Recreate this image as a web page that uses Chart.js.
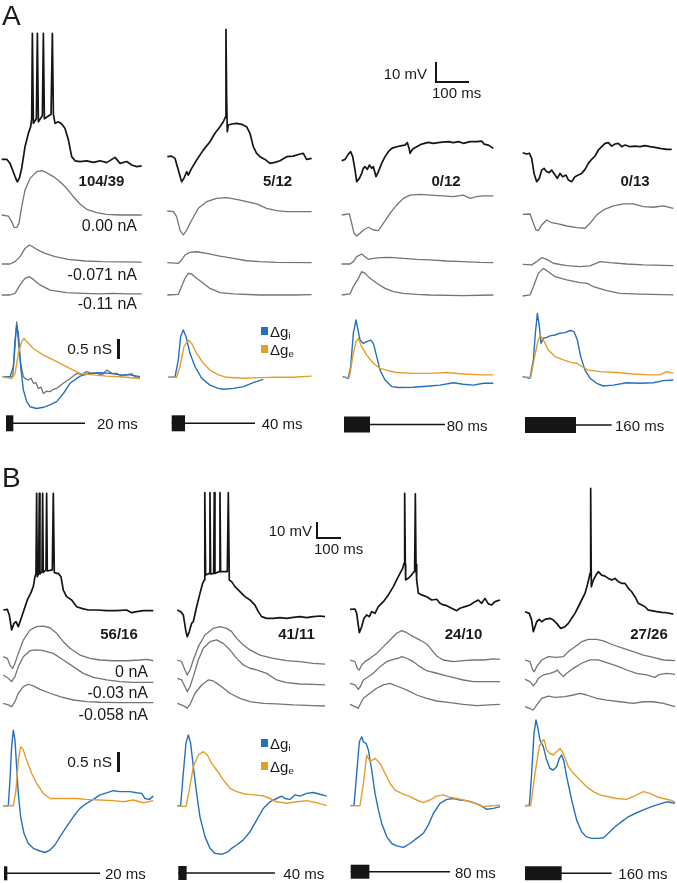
<!DOCTYPE html>
<html>
<head>
<meta charset="utf-8">
<script src="https://cdn.jsdelivr.net/npm/chart.js@4.4.1/dist/chart.umd.min.js"></script>
<style>
  body { margin: 0; width: 677px; height: 883px; position: relative; overflow: hidden; background: #fff;
         font-family: "Liberation Sans", Arial, sans-serif; color: #1a1a1a; }
  canvas { position: absolute; }
  .lbl { position: absolute; white-space: nowrap; line-height: 1; z-index: 2; }
  .lbl sub { font-size: 0.65em; vertical-align: -0.25em; line-height: 0; }
  .box { position: absolute; z-index: 2; }
</style>
</head>
<body>
<script>
// traces as [time ms, value] pairs, values relative to each trace's own start level
// panel A, column 1 (20 ms)
const A1_v = [[0,0],[15,0],[25,-2.7],[40,-11.5],[47,-15],[53,-12.6],[60,-6],[70,8.4],[80,17.3],[87,21.8],[90,27],[92,84],[95,24],[104,27],[107,84],[110,25],[122,29],[125,84],[128,27],[148,30],[152,84],[155,30],[160,24],[170,25],[180,23.5],[190,20.5],[200,13],[210,1.8],[220,-1],[235,-1.5],[255,-1.1],[275,-2],[295,-1],[315,-2.2],[340,1.3],[355,-2.7],[375,-1.5],[390,-3.8],[405,-4.9],[420,-4.4]];
const A1_g1 = [[0,0],[20,-0.7],[30,-4.4],[37,-8.2],[45,-8.4],[52,-5.6],[60,5.6],[70,16.7],[85,24.4],[105,28.9],[120,29.6],[135,28.2],[155,25.6],[175,22.2],[195,17.8],[215,12.2],[235,7.3],[255,3.8],[285,1.6],[315,0.4],[355,0],[420,0]];
const A1_g2 = [[0,0],[25,0],[40,1.6],[55,4.9],[70,10.4],[83,12.7],[90,11.8],[105,9.8],[130,7.1],[160,4.9],[200,3.1],[250,2],[300,1.6],[420,1.3]];
const A1_g3 = [[0,0],[25,0],[40,1.1],[55,6.7],[70,11.1],[83,12.2],[95,10.4],[115,6.7],[145,3.3],[195,1.6],[245,1.1],[295,0.7],[335,1.1],[375,0.7],[420,0.7]];
const A1_gi = [[0,0],[22,0],[32,0.33],[37,1.22],[42,1.72],[47,1.44],[54,0.33],[62,-0.44],[72,-0.83],[82,-1],[102,-1.06],[122,-1.02],[142,-0.94],[162,-0.83],[182,-0.56],[202,-0.22],[232,0.02],[262,0.11],[292,0.13],[322,0.11],[352,0.06],[382,0.06],[412,0]];
const A1_ge = [[0,0],[27,-0.06],[37,0.11],[47,0.78],[57,1.17],[64,1.28],[72,1.17],[92,0.94],[122,0.72],[152,0.56],[192,0.33],[232,0.11],[272,0.06],[312,0.02],[352,0],[412,-0.06]];
const A1_gt = [[0,0],[30,0],[37,1.0],[42,1.83],[52,0.56],[62,0],[70,-0.08],[77,-0.11],[85,-0.05],[92,-0.22],[100,-0.2],[107,-0.39],[115,-0.35],[122,-0.56],[132,-0.48],[142,-0.5],[152,-0.42],[162,-0.39],[172,-0.3],[182,-0.22],[202,-0.06],[222,0.11],[237,0.08],[252,0.17],[267,0.1],[282,0.13],[297,0.05],[312,0.22],[327,0.12],[342,0.11],[357,0.02],[372,0.06],[387,0.1],[402,-0.06],[412,0]];
// panel A, column 2 (40 ms)
const A2_v = [[0,0],[13,0.4],[23,-1.1],[33,-8.9],[43,-16.7],[50,-14.4],[58,-10],[63,-12.2],[73,-7.8],[88,-2.2],[108,4.4],[128,10],[143,15.6],[158,20],[168,23.3],[175,26.7],[176,84.9],[178,40],[180,16.7],[183,21.1],[193,21.8],[208,22.2],[223,21.6],[238,20],[248,15.6],[258,6.7],[268,2.2],[278,0],[293,-1.8],[308,-4.4],[323,-3.8],[338,-2.7],[358,0],[378,0.4],[398,1.8],[408,2.2],[418,-1.8],[433,-1.1]];
const A2_g1 = [[0,0],[18,-0.4],[28,-3.8],[38,-12.7],[48,-16],[58,-12.7],[73,-6.2],[93,1.8],[118,6.2],[148,8.4],[178,8.9],[208,7.8],[238,6.2],[268,4.7],[298,1.8],[328,0.2],[358,-0.4],[433,-0.4]];
const A2_g2 = [[0,0],[33,-0.4],[43,1.8],[53,5.1],[68,6.9],[88,7.3],[118,6.2],[158,4.4],[198,2.9],[238,1.3],[278,0.7],[328,0.2],[433,0]];
const A2_g3 = [[0,0],[33,0.4],[43,5.6],[53,11.1],[63,14.4],[73,14],[88,11.1],[108,7.8],[128,4.4],[158,1.6],[198,0.7],[278,0],[378,0],[433,0.2]];
const A2_gi = [[0,0],[20,0],[30,0.58],[37,1.36],[45,1.58],[53,1.36],[65,0.8],[80,0.36],[100,-0.03],[125,-0.26],[150,-0.37],[165,-0.4],[195,-0.37],[225,-0.31],[255,-0.18],[285,-0.07]];
const A2_ge = [[0,0],[25,0],[35,0.36],[47,1.02],[60,1.24],[70,1.13],[85,0.8],[105,0.47],[125,0.24],[150,0.08],[175,0],[225,-0.03],[275,-0.01],[325,0],[375,0],[430,0.04]];
// panel A, column 3 (80 ms)
const A3_v = [[0,0],[10,0.9],[20,4.4],[27,6],[33,2.7],[40,-6.2],[45,-14],[53,-11.8],[60,-8.4],[65,-5.1],[70,-4],[77,-5.8],[83,-2.9],[90,-5.1],[95,-4],[103,-10.7],[110,-7.3],[120,-1.8],[130,2.7],[140,6],[150,8.2],[165,9.3],[180,10],[190,10.4],[197,12],[203,7.6],[205,4.9],[213,7.8],[225,9.3],[240,11.1],[260,12.2],[275,11.6],[295,12.2],[320,12.7],[335,12],[350,12.7],[365,11.6],[385,12.7],[405,12.7],[420,13.1],[427,11.1],[440,10.4],[455,8.2]];
const A3_g1 = [[0,0],[23,0.7],[30,-5.6],[37,-12.2],[45,-14],[55,-12.2],[65,-10],[80,-8.2],[95,-10],[110,-10.4],[125,-5.6],[145,1.1],[165,6.7],[185,11.1],[205,13.3],[235,13.8],[265,13.3],[305,12.7],[335,12.2],[365,13.3],[385,11.1],[405,12.2],[425,12.7],[455,12.7]];
const A3_g2 = [[0,0],[25,0],[35,1.6],[45,4.9],[60,6.7],[70,4.9],[80,3.1],[95,3.8],[115,4.2],[145,4.4],[185,3.8],[225,3.1],[265,2.7],[315,2],[365,1.6],[415,1.1],[455,0.9]];
const A3_g3 = [[0,0],[25,0.7],[35,5.6],[50,11.1],[60,15.6],[70,14.4],[85,11.1],[105,7.8],[130,4.4],[155,2.2],[185,1.1],[225,0.4],[265,0],[365,-0.4],[455,0]];
const A3_gi = [[0,0.02],[17,-0.03],[24,0.36],[32,1.47],[40,1.91],[45,1.63],[52,1.24],[62,1.13],[72,1.19],[84,1.24],[92,1.13],[102,0.69],[112,0.24],[127,-0.09],[147,-0.31],[167,-0.34],[212,-0.33],[262,-0.29],[292,-0.26],[332,-0.18],[362,-0.23],[392,-0.26],[422,-0.2],[452,-0.2]];
const A3_ge = [[0,0],[20,0],[30,0.69],[40,1.19],[47,1.3],[57,1.02],[72,0.74],[92,0.47],[112,0.3],[137,0.22],[162,0.16],[212,0.13],[262,0.13],[312,0.16],[362,0.11],[412,0.08],[452,0.08]];
// panel A, column 4 (160 ms)
const A4_v = [[0,0],[12,-0.9],[20,-0.4],[27,-3.8],[34,-13.8],[42,-19.3],[50,-17.1],[57,-11.6],[64,-10.4],[72,-12.7],[80,-13.3],[87,-11.6],[97,-14.9],[104,-17.1],[112,-13.8],[120,-16],[130,-14.9],[137,-18.2],[147,-19.3],[157,-16],[167,-14.9],[177,-13.8],[187,-11.1],[197,-7.1],[207,-4.4],[217,-2.2],[227,1.8],[237,4],[247,6.2],[257,6.7],[267,4.4],[277,5.8],[287,6.2],[297,4],[307,5.1],[322,4],[337,4.4],[352,4],[367,4.7],[382,4],[397,3.6],[412,2.9],[432,2.2],[447,2.2]];
const A4_g1 = [[0,0],[22,0.2],[32,-6],[40,-10.4],[47,-10.9],[57,-7.1],[72,-3.8],[87,-5.6],[107,-6.4],[132,-7.8],[162,-8.9],[187,-9.3],[202,-6],[222,-0.4],[242,2.9],[272,5.6],[302,6.9],[332,6.9],[362,5.1],[392,4.7],[422,5.6],[452,4]];
const A4_g2 = [[0,0],[27,-0.4],[42,1.8],[57,4.4],[72,3.3],[92,0.7],[132,-0.9],[172,-1.6],[202,-1.1],[232,1.8],[262,1.1],[312,0.2],[362,-0.4],[452,-0.9]];
const A4_g3 = [[0,0],[22,0.7],[32,6.2],[47,15.1],[62,18.4],[77,16.2],[97,12.9],[132,10.7],[172,8.9],[194,8.4],[212,6.2],[252,3.6],[292,1.8],[352,1.3],[452,0.7]];
const A4_gi = [[0,0.02],[22,-0.03],[32,0.58],[38,1.47],[44,2.13],[50,1.69],[55,1.13],[62,1.3],[72,1.33],[82,1.38],[97,1.41],[112,1.47],[127,1.49],[142,1.56],[154,1.52],[164,1.24],[174,0.69],[187,0.24],[202,-0.03],[222,-0.2],[242,-0.29],[272,-0.26],[312,-0.18],[352,-0.2],[392,-0.18],[422,-0.11],[452,-0.09]];
const A4_ge = [[0,0],[24,0],[34,0.58],[44,1.13],[52,1.41],[62,1.24],[77,0.91],[97,0.69],[122,0.58],[147,0.49],[164,0.47],[177,0.36],[197,0.24],[232,0.19],[282,0.16],[332,0.11],[382,0.08],[412,0.08],[432,0.19],[452,0.13]];
// panel B, column 1 (20 ms)
const B1_v = [[0,0],[12,0.4],[18,-3.3],[25,-13.3],[32,-8.9],[38,-7.8],[45,-11.1],[52,-6.7],[62,0],[72,6.7],[82,11.1],[90,15.6],[95,22.2],[98,24.4],[100,77.8],[102,22.2],[106,24.4],[108,77.8],[110,24],[116,25.6],[118,77.8],[120,25],[128,26.7],[130,77.8],[132,26],[147,26.7],[150,77.8],[153,25],[160,24.4],[165,24.4],[173,22.2],[180,13.3],[190,8.9],[205,6.7],[220,2.2],[235,1.1],[255,0],[280,0],[310,-0.4],[340,-0.4],[370,0],[385,-1.8],[400,-1.1],[420,-0.4],[450,-0.4]];
const B1_g1 = [[0,0],[12,-1.1],[20,-5.6],[28,-7.8],[35,-4.4],[45,2.2],[60,11.1],[80,17.8],[100,20],[120,20.4],[140,19.3],[160,15.6],[180,10],[200,5.6],[230,1.1],[260,-1.1],[290,-2.2],[330,-2.7],[370,-2.7],[410,-2.2],[430,-1.8],[450,-2.7]];
const B1_g2 = [[0,0],[15,-2.2],[25,-4.4],[35,-1.1],[45,5.6],[60,12.2],[80,16.2],[100,16.7],[120,16.2],[150,14.4],[180,10],[210,5.6],[240,1.1],[270,-1.6],[310,-3.3],[350,-4.4],[390,-4.9],[450,-4.9]];
const B1_g3 = [[0,0],[15,-1.1],[25,-2.2],[35,1.1],[45,6.7],[60,11.1],[75,12.7],[90,11.6],[110,9.3],[140,6.7],[170,4.4],[210,2.2],[250,1.1],[290,0.7],[350,0.4],[450,0.4]];
const B1_gi = [[0,0],[15,0],[20,0.86],[25,1.97],[30,2.52],[35,2.19],[40,1.3],[45,0.41],[52,-0.37],[62,-0.92],[75,-1.26],[90,-1.42],[110,-1.51],[125,-1.56],[140,-1.48],[155,-1.31],[170,-1.03],[190,-0.7],[210,-0.37],[230,-0.09],[250,0.08],[270,0.21],[290,0.36],[310,0.43],[330,0.5],[350,0.47],[380,0.47],[400,0.43],[415,0.41],[425,0.24],[438,0.21],[450,0.32]];
const B1_ge = [[0,0],[30,0],[38,0.52],[45,1.52],[52,1.97],[60,1.86],[70,1.52],[85,1.08],[100,0.74],[120,0.41],[140,0.24],[160,0.24],[190,0.24],[220,0.24],[250,0.21],[290,0.19],[330,0.17],[360,0.13],[390,0.19],[420,0.1],[450,0.17]];
// panel B, column 2 (40 ms)
const B2_v = [[0,0],[10,-1.1],[18,-3.3],[26,-14.4],[30,-17.8],[36,-14.4],[43,-8.9],[48,-7.8],[58,2.2],[68,11.1],[76,17.8],[81,20],[82,22.2],[83,78.2],[85,23.3],[96,24.4],[98,78.2],[100,24],[109,24.4],[111,78.2],[113,24.4],[126,25.6],[128,78.2],[130,25.6],[150,25.6],[153,78.2],[156,20],[163,18.9],[173,15.6],[188,12.2],[203,8.9],[218,6.7],[233,3.3],[243,-1.1],[253,-4.4],[268,-5.6],[288,-5.6],[308,-5.1],[328,-5.6],[348,-4.9],[368,-4.4],[388,-5.1],[408,-4.4],[428,-4],[443,-4.4]];
const B2_g1 = [[0,0],[13,-1.1],[23,-6.7],[30,-10],[38,-6.7],[48,0],[63,8.9],[83,16.7],[108,21.1],[128,22.2],[148,21.1],[163,18.9],[178,14.4],[198,10],[218,6.7],[248,3.3],[288,1.1],[328,-0.4],[368,-1.1],[408,-2.2],[443,-2.7]];
const B2_g2 = [[0,0],[13,-1.1],[23,-5.6],[30,-8.9],[38,-5.6],[48,1.1],[63,12.2],[78,20],[98,24.4],[118,25.6],[138,23.3],[158,18.9],[178,13.3],[198,8.9],[218,6.7],[238,5.6],[268,3.3],[298,-1.1],[328,-2.9],[368,-3.8],[408,-4],[443,-4.4]];
const B2_g3 = [[0,0],[13,-1.1],[23,-2.2],[30,-3.3],[40,0],[53,6.7],[73,12.2],[93,15.6],[108,14.9],[133,11.1],[158,6.7],[188,3.3],[218,1.1],[258,0],[298,-0.4],[348,-1.1],[408,-1.6],[443,-1.8]];
const B2_gi = [[0,0],[10,0],[18,1.08],[26,2.08],[33,2.36],[40,2.08],[48,1.3],[58,0.41],[68,-0.37],[83,-1.03],[98,-1.42],[113,-1.59],[133,-1.62],[153,-1.53],[163,-1.42],[178,-1.31],[198,-1.14],[218,-0.87],[238,-0.48],[258,-0.09],[278,0.13],[298,0.24],[313,0.32],[323,0.24],[338,0.21],[353,0.36],[368,0.32],[388,0.41],[408,0.44],[428,0.38],[448,0.32]];
const B2_ge = [[0,0],[26,-0.03],[36,0.52],[48,1.3],[63,1.69],[78,1.8],[90,1.69],[103,1.41],[118,1.19],[138,0.86],[158,0.58],[178,0.47],[203,0.39],[228,0.36],[258,0.33],[278,0.24],[298,0.13],[328,0.08],[358,0.13],[388,0.17],[418,0.1],[448,0]];
// panel B, column 3 (80 ms)
const B3_v = [[0,0],[15,0.2],[20,-2.7],[28,-15.6],[35,-11.6],[42,-6],[50,-3.8],[58,-4.9],[65,-1.6],[75,-2.7],[85,1.8],[100,5.1],[115,9.6],[130,15.1],[140,19.6],[150,24],[158,27.3],[162,30.7],[164,77.3],[166,30],[167,19.6],[175,20.7],[185,23],[192,25.1],[194,27.3],[196,76.9],[198,30],[200,19.6],[205,10.7],[215,9.6],[230,8.4],[245,6.2],[260,6.7],[270,4],[280,2.9],[290,2.4],[305,0.7],[320,-0.9],[330,0.7],[345,1.8],[360,2.9],[375,5.1],[385,6.2],[395,4],[405,7.3],[415,3.6],[425,2.9],[435,5.1],[450,6.2]];
const B3_g1 = [[0,0],[15,-1.1],[22,-5.6],[28,-6.7],[35,-3.3],[45,-1.1],[60,1.1],[80,4.4],[100,8.9],[120,13.3],[140,17.8],[155,19.6],[170,18.2],[190,15.6],[210,13.3],[230,10.7],[245,6.7],[260,2.7],[280,0],[310,-1.1],[340,-0.4],[370,0],[400,0],[430,0.7],[450,0.4]];
const B3_g2 = [[0,0],[15,-1.1],[25,-4],[32,-1.8],[40,2.2],[55,4.4],[70,6.7],[90,11.1],[110,14.4],[130,16],[145,16.7],[155,17.8],[170,16.7],[190,14.4],[210,11.1],[230,8.4],[260,6.7],[290,4.9],[320,3.3],[340,2.2],[370,1.1],[400,1.1],[450,1.1]];
const B3_g3 = [[0,0],[15,-1.6],[25,-2.7],[32,0.7],[40,4],[60,7.3],[80,10.7],[100,12.9],[120,14],[140,12.2],[170,9.6],[200,6.2],[230,4],[260,2.2],[300,1.1],[340,0],[380,-0.9],[420,-0.4],[450,0]];
const B3_gi = [[0,0],[10,0.02],[18,1.08],[26,2.13],[33,2.3],[38,2.13],[46,2.08],[53,1.86],[63,1.19],[73,0.41],[83,-0.14],[93,-0.59],[108,-1.03],[123,-1.26],[138,-1.34],[158,-1.39],[178,-1.26],[198,-1.09],[218,-0.92],[233,-0.64],[248,-0.26],[268,0.08],[288,0.21],[308,0.24],[328,0.19],[348,0.17],[368,0.1],[388,0.02],[408,-0.12],[428,-0.09],[448,-0.03]];
const B3_ge = [[0,0],[28,0],[38,0.74],[48,1.69],[58,1.47],[73,1.58],[88,1.41],[103,1.08],[118,0.74],[133,0.52],[153,0.41],[178,0.3],[198,0.19],[218,0.1],[238,0.19],[258,0.32],[278,0.36],[298,0.28],[318,0.24],[338,0.19],[368,0.1],[398,-0.03],[418,-0.01],[448,0.02]];
// panel B, column 4 (160 ms)
const B4_v = [[0,0],[13,-1.1],[20,-5.6],[25,-13.3],[30,-10],[35,-6.7],[43,-5.1],[50,-6.7],[60,-5.1],[75,-4.4],[85,-5.6],[95,-7.8],[107,-11.1],[120,-10],[130,-7.8],[140,-4.4],[150,-1.1],[160,3.3],[170,7.8],[180,12.2],[187,17.8],[193,23.3],[195,25.6],[197,82.2],[199,16.7],[205,21.1],[213,24.4],[220,26.7],[230,24.4],[240,23.7],[250,22.2],[260,21.1],[270,22.2],[280,20],[290,18.9],[300,18.9],[310,15.6],[320,13.3],[330,10],[340,5.6],[350,4.4],[360,3.3],[370,1.1],[380,0.7],[395,0],[410,-0.4],[425,-0.7],[445,-1.6]];
const B4_g1 = [[0,0],[15,-1.1],[23,-6.7],[28,-7.8],[35,-4.4],[50,0],[70,2.2],[95,1.8],[115,2.2],[130,5.6],[150,8.9],[170,12.2],[190,13.8],[215,13.8],[235,12.7],[265,10],[295,7.8],[325,5.6],[355,3.3],[385,1.8],[415,0],[450,-0.4]];
const B4_g2 = [[0,0],[15,-1.6],[25,-4.4],[33,-2.2],[40,0.7],[55,2.9],[75,4],[90,5.1],[97,6.2],[105,4],[115,1.8],[125,4],[145,7.3],[170,10.7],[195,12.9],[220,12.9],[245,11.1],[275,8.9],[305,6.2],[335,4],[365,2.9],[390,1.3],[400,2.9],[425,4],[450,3.3]];
const B4_g3 = [[0,0],[13,-1.1],[25,-2.2],[35,1.1],[50,5.6],[70,7.1],[90,6.2],[120,6.7],[145,7.8],[165,8.9],[185,7.8],[215,5.6],[245,4.4],[285,3.3],[325,2.2],[355,3.3],[385,3.3],[415,2.2],[450,0]];
const B4_gi = [[0,0],[13,0.02],[20,1.08],[27,2.41],[33,2.86],[38,2.63],[45,2.19],[55,1.97],[65,1.52],[75,1.24],[85,1.19],[95,1.3],[103,1.58],[110,1.69],[117,1.47],[125,0.97],[140,0.19],[155,-0.48],[170,-0.87],[183,-1.03],[200,-1.09],[220,-1.09],[235,-1.07],[250,-0.92],[270,-0.7],[290,-0.53],[310,-0.37],[330,-0.26],[355,-0.14],[380,-0.03],[405,0.06],[425,0.13],[450,0.08]];
const B4_ge = [[0,0],[17,0],[30,1.08],[43,1.97],[50,2.13],[57,2.21],[65,1.86],[75,1.74],[85,1.69],[95,1.8],[105,1.91],[115,1.74],[130,1.3],[145,1.08],[165,0.86],[185,0.63],[205,0.47],[225,0.36],[250,0.3],[275,0.24],[305,0.21],[335,0.36],[355,0.47],[375,0.41],[395,0.3],[415,0.24],[435,0.19],[450,0.13]];

// stimulus: drawn block length and trial line length (ms), labels
const stimBlockA = [22, 40, 78, 153];
const stimLineA = [237, 250, 303, 260];
const stimBlockB = [10, 25, 56, 110];
const stimLineB = [288, 290, 298, 260];
const stimLabels = ['20 ms', '40 ms', '80 ms', '160 ms'];
const countsA = ['104/39', '5/12', '0/12', '0/13'];
const countsB = ['56/16', '41/11', '24/10', '27/26'];
const holdA = ['0.00 nA', '-0.071 nA', '-0.11 nA'];
const holdB = ['0 nA', '-0.03 nA', '-0.058 nA'];

const C_BLACK = '#151515', C_GRAY = '#747474', C_BLUE = '#2470be', C_ORANGE = '#e89c2c';
const KX = 1 / 3;   // px per ms
const KV = 1.5;     // px per mV
const KG = 30;      // px per nS

// where each column sits on the page
const COLS = [
  { top: 0, h: 445, left: 0, w: 170, xv: 1.7, xg: 2.7, xs: 6, yv: 159.3, y1: 215, y2: 264, y3: 295, yg: 376.7, ys: 423.3, bar: 16, lx: 97 },
  { top: 0, h: 445, left: 160, w: 175, xv: 167.3, xg: 168.3, xs: 171.7, yv: 156.7, y1: 211, y2: 262.7, y3: 295, yg: 377.3, ys: 423.3, bar: 16, lx: 261.7 },
  { top: 0, h: 445, left: 330, w: 175, xv: 341.7, xg: 342.7, xs: 344, yv: 160.7, y1: 215, y2: 264, y3: 295, yg: 377.3, ys: 424.5, bar: 16, lx: 446.7 },
  { top: 0, h: 445, left: 500, w: 177, xv: 522.7, xg: 522.7, xs: 525, yv: 152.7, y1: 214.3, y2: 264.3, y3: 296, yg: 377.3, ys: 425, bar: 16, lx: 615 },
  { top: 440, h: 443, left: 0, w: 170, xv: 3.3, xg: 3.3, xs: 4, yv: 610, y1: 656.7, y2: 675, y3: 703.3, yg: 805.7, ys: 873.3, bar: 14, lx: 105 },
  { top: 440, h: 443, left: 160, w: 175, xv: 177.3, xg: 177.3, xs: 178.3, yv: 610, y1: 660, y2: 678.3, y3: 703.3, yg: 805.7, ys: 873, bar: 14, lx: 283.3 },
  { top: 440, h: 443, left: 330, w: 175, xv: 350, xg: 350.7, xs: 350.7, yv: 609.3, y1: 660, y2: 683.3, y3: 704.3, yg: 805.7, ys: 871.7, bar: 14, lx: 455 },
  { top: 440, h: 443, left: 500, w: 177, xv: 525, xg: 525, xs: 525, yv: 611.7, y1: 660, y2: 679.3, y3: 706.7, yg: 805.7, ys: 873.3, bar: 14, lx: 618.3 },
];

const VOLT = [A1_v, A2_v, A3_v, A4_v, B1_v, B2_v, B3_v, B4_v];
const HOLD1 = [A1_g1, A2_g1, A3_g1, A4_g1, B1_g1, B2_g1, B3_g1, B4_g1];
const HOLD2 = [A1_g2, A2_g2, A3_g2, A4_g2, B1_g2, B2_g2, B3_g2, B4_g2];
const HOLD3 = [A1_g3, A2_g3, A3_g3, A4_g3, B1_g3, B2_g3, B3_g3, B4_g3];
const GI = [A1_gi, A2_gi, A3_gi, A4_gi, B1_gi, B2_gi, B3_gi, B4_gi];
const GE = [A1_ge, A2_ge, A3_ge, A4_ge, B1_ge, B2_ge, B3_ge, B4_ge];
const STIM_BLOCK = stimBlockA.concat(stimBlockB);
const STIM_LINE = stimLineA.concat(stimLineB);

function xr(x0, c) {
  const min = -(x0 - c.left) / KX;
  return { min, max: min + c.w / KX };
}
function yr(yb, c, k) {
  const rel = yb - c.top;
  return { min: -(c.h - rel) / k, max: rel / k };
}
function trace(data, color, width, xid, yid, extra) {
  return Object.assign({
    data: data.map((p) => ({ x: p[0], y: p[1] })),
    borderColor: color, borderWidth: width, xAxisID: xid, yAxisID: yid,
    showLine: true, pointRadius: 0, tension: 0, fill: false, borderJoinStyle: 'round', clip: false,
  }, extra || {});
}

COLS.forEach((c, i) => {
  const cv = document.createElement('canvas');
  cv.width = c.w; cv.height = c.h;
  cv.style.left = c.left + 'px'; cv.style.top = c.top + 'px';
  document.body.appendChild(cv);

  const datasets = [
    trace(HOLD1[i], C_GRAY, 1.3, 'xv', 'y1'),
    trace(HOLD2[i], C_GRAY, 1.3, 'xv', 'y2'),
    trace(HOLD3[i], C_GRAY, 1.3, 'xv', 'y3'),
    trace(VOLT[i], C_BLACK, 1.7, 'xv', 'yv'),
    trace(GE[i], C_ORANGE, 1.4, 'xg', 'yg'),
    trace(GI[i], C_BLUE, 1.4, 'xg', 'yg'),
    trace([[0, 0], [STIM_LINE[i], 0]], C_BLACK, 1.5, 'xs', 'ys'),
    trace([[0, 0], [STIM_BLOCK[i], 0]], C_BLACK, c.bar, 'xs', 'ys', { borderCapStyle: 'butt' }),
  ];
  if (i === 0) datasets.push(trace(A1_gt, C_GRAY, 1.3, 'xg', 'yg'));

  const ax = (r) => Object.assign({ type: 'linear', display: false }, r);
  new Chart(cv, {
    type: 'scatter',
    data: { datasets },
    options: {
      responsive: false,
      animation: false,
      events: [],
      layout: { padding: 0 },
      plugins: { legend: { display: false }, tooltip: { enabled: false } },
      scales: {
        xv: ax(xr(c.xv, c)), xg: ax(xr(c.xg, c)), xs: ax(xr(c.xs, c)),
        yv: ax(yr(c.yv, c, KV)), y1: ax(yr(c.y1, c, KV)), y2: ax(yr(c.y2, c, KV)), y3: ax(yr(c.y3, c, KV)),
        yg: ax(yr(c.yg, c, KG)), ys: ax(yr(c.ys, c, 1)),
      },
    },
  });
});

function txt(s, x, y, o) {
  o = o || {};
  const d = document.createElement('div');
  d.className = 'lbl';
  d.innerHTML = s;
  d.style.fontSize = (o.size || 15) + 'px';
  if (o.bold) d.style.fontWeight = 'bold';
  d.style.top = y + 'px';
  if (o.anchor === 'right') {
    d.style.right = (677 - x) + 'px';
    d.style.transform = 'translateY(-50%)';
  } else if (o.anchor === 'center') {
    d.style.left = x + 'px';
    d.style.transform = 'translate(-50%,-50%)';
  } else {
    d.style.left = x + 'px';
    d.style.transform = 'translateY(-50%)';
  }
  document.body.appendChild(d);
}
function box(x, y, w, h, color) {
  const d = document.createElement('div');
  d.className = 'box';
  d.style.cssText += `left:${x}px;top:${y}px;width:${w}px;height:${h}px;background:${color};`;
  document.body.appendChild(d);
}

// panel letters
txt('A', 2, 16, { size: 28 });
txt('B', 2, 478, { size: 28 });

// spike counts
[101.5, 277.5, 446, 635].forEach((x, i) => txt(countsA[i], x, 180, { bold: true, anchor: 'center' }));
[119, 296.5, 463.5, 649].forEach((x, i) => txt(countsB[i], x, 633, { bold: true, anchor: 'center' }));

// holding currents
[226, 275, 304].forEach((y, i) => txt(holdA[i], 137, y, { size: 16, anchor: 'right' }));
[672, 693, 715].forEach((y, i) => txt(holdB[i], 148, y, { size: 16, anchor: 'right' }));

// stimulus durations
COLS.forEach((c, i) => txt(stimLabels[i % 4], c.lx, c.ys, { size: 15 }));

// scale bars
box(435, 62, 2, 21, C_BLACK); box(435, 81, 34, 2, C_BLACK);
txt('10 mV', 427, 72.5, { anchor: 'right' }); txt('100 ms', 432, 92);
box(316, 522, 2, 17, C_BLACK); box(316, 537, 25, 2, C_BLACK);
txt('10 mV', 312, 530, { anchor: 'right' }); txt('100 ms', 314, 548);
box(117, 339, 2.5, 20, C_BLACK); txt('0.5 nS', 112, 349, { size: 15.5, anchor: 'right' });
box(117, 752, 2.5, 20, C_BLACK); txt('0.5 nS', 112, 762, { size: 15.5, anchor: 'right' });

// legends
box(261, 327, 7, 8, C_BLUE); txt('Δg<sub>i</sub>', 270, 331);
box(261, 345, 7, 8, C_ORANGE); txt('Δg<sub>e</sub>', 270, 349);
box(261, 739, 7, 8, C_BLUE); txt('Δg<sub>i</sub>', 270, 743);
box(261, 762, 7, 8, C_ORANGE); txt('Δg<sub>e</sub>', 270, 766);
</script>
</body>
</html>
